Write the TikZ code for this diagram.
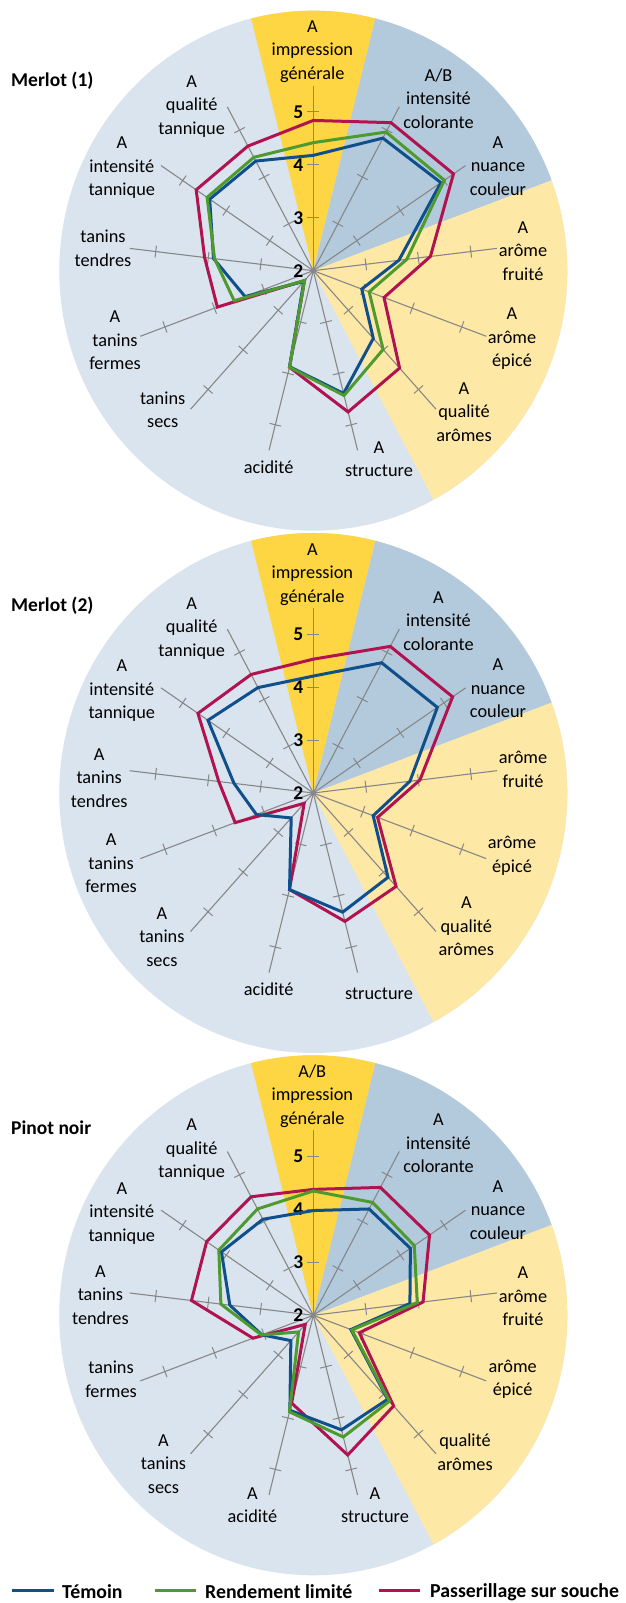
\documentclass[tikz,border=0pt]{standalone}
\usepackage{fontspec}
\setmainfont{Carlito}
\usetikzlibrary{calc}
\definecolor{bgc}{HTML}{DAE4EE}
\definecolor{bluesec}{HTML}{B3CADD}
\definecolor{yelsec}{HTML}{FED543}
\definecolor{ltyel}{HTML}{FEE8A5}
\definecolor{temoin}{HTML}{0E4F8C}
\definecolor{rend}{HTML}{4E9A2E}
\definecolor{pass}{HTML}{B0134F}
\definecolor{axisc}{HTML}{878787}
\tikzset{
  lbl/.style={align=center, font=\fontsize{18.3}{23.5}\selectfont, inner sep=0pt},
  num/.style={font=\bfseries\fontsize{19.5}{19.5}\selectfont, inner sep=0pt},
  ttl/.style={font=\bfseries\fontsize{19.5}{20}\selectfont, inner sep=0pt, anchor=west},
  leg/.style={font=\bfseries\fontsize{19.8}{20}\selectfont, inner sep=0pt, anchor=west},
  spoke/.style={draw=axisc, line width=1.1pt},
  tickm/.style={draw=axisc, line width=1pt},
  series/.style={line width=3pt, line join=miter, miter limit=3},
  legline/.style={line width=3pt},
}
\newcommand\radarbg[1]{%
  \coordinate (#1c) at (0,0);
  \fill[bgc] (#1c) ellipse [x radius=254, y radius=260];
  \begin{scope}
    \clip (#1c) ellipse [x radius=254, y radius=260];
    \fill[yelsec] (#1c) -- (103.846:400) arc[start angle=103.846, end angle=76.154, radius=400] -- cycle;
    \fill[bluesec] (#1c) -- (76.154:400) arc[start angle=76.154, end angle=20.769, radius=400] -- cycle;
    \fill[ltyel] (#1c) -- (20.769:400) arc[start angle=20.769, end angle=-62.308, radius=400] -- cycle;
  \end{scope}
  \foreach \k in {0,...,12}{
    \pgfmathsetmacro\a{90-27.6923*\k}
    \coordinate (#1e\k) at (\a:185);
    \draw[spoke] (#1c) -- (#1e\k);
    \foreach \t in {1,2,3}{
      \draw[tickm] (\a:{\t*52.9}) ++({\a+90}:6) -- ++({\a-90}:12);
    }
  }
  \fill[axisc] (#1c) circle (2.6);
  \node[num] (#1n2) at (-15,0) {2};
  \node[num] (#1n3) at (-15,52.9) {3};
  \node[num] (#1n4) at (-15,105.8) {4};
  \node[num] (#1n5) at (-15,158.7) {5};
}
\newcommand\serie[3]{%
  \foreach \v [count=\k from 0] in {#3}{
    \pgfmathsetmacro\a{90-27.6923*\k}
    \coordinate (#1\k) at (\a:{(\v-2)*52.9});
  }
  \draw[series,#2] (#10) -- (#11) -- (#12) -- (#13) -- (#14) -- (#15) -- (#16) -- (#17) -- (#18) -- (#19) -- (#110) -- (#111) -- (#112) -- cycle;
}
\begin{document}
\begin{tikzpicture}[x=1pt,y=1pt]
\useasboundingbox (0,0) rectangle (625,1603);
\fill[white] (0,0) rectangle (625,1603);

% ---------------- Merlot (1)
\begin{scope}[shift={(313.3,1332.3)}]
  \radarbg{a}
  \serie{aP}{pass}{4.84,5.16,5.22,4.23,3.43,4.46,4.75,3.88,2.25,3.94,4.07,4.69,4.66}
  \serie{aT}{temoin}{4.18,4.83,4.93,3.63,2.98,3.71,4.39,3.87,2.27,3.38,3.90,4.38,4.34}
  \serie{aR}{rend}{4.42,4.96,5.01,3.78,3.13,3.99,4.43,3.88,2.25,3.60,3.88,4.44,4.42}
  \node[lbl] (al0) at (-1,219.2) {A\\impression\\générale};
  \node[lbl] (al1) at (125.2,172.2) {A/B\\intensité\\colorante};
  \node[lbl] (al2) at (184.7,104.6) {A\\nuance\\couleur};
  \node[lbl] (al3) at (209.7,19.9) {A\\arôme\\fruité};
  \node[lbl] (al4) at (198.7,-68.3) {A\\arôme\\épicé};
  \node[lbl] (al5) at (150.7,-141.3) {A\\qualité\\arômes};
  \node[lbl] (al6) at (65.7,-188.3) {A\\structure};
  \node[lbl] (al7) at (-44.6,-196.1) {acidité};
  \node[lbl] (al8) at (-150.6,-139.3) {tanins\\secs};
  \node[lbl] (al9) at (-198.3,-69.8) {A\\tanins\\fermes};
  \node[lbl] (al10) at (-210.3,22.2) {tanins\\tendres};
  \node[lbl] (al11) at (-191.5,102.9) {A\\intensité\\tannique};
  \node[lbl] (al12) at (-121.6,164.4) {A\\qualité\\tannique};
  \node[ttl] (at) at (-302.3,190) {Merlot (1)};
\end{scope}

% ---------------- Merlot (2)
\begin{scope}[shift={(313.3,810.0)}]
  \radarbg{b}
  \serie{bP}{pass}{4.53,5.13,5.20,4.03,3.30,4.36,4.50,3.88,2.26,3.58,3.80,4.65,4.53}
  \serie{bT}{temoin}{4.21,4.78,4.85,3.84,3.21,4.13,4.32,3.88,2.63,3.15,3.51,4.42,4.25}
  \node[lbl] (bl0) at (-1,218.6) {A\\impression\\générale};
  \node[lbl] (bl1) at (125.2,172.2) {A\\intensité\\colorante};
  \node[lbl] (bl2) at (184.7,104.6) {A\\nuance\\couleur};
  \node[lbl] (bl3) at (209.7,23.6) {arôme\\fruité};
  \node[lbl] (bl4) at (198.7,-63) {arôme\\épicé};
  \node[lbl] (bl5) at (153,-133.6) {A\\qualité\\arômes};
  \node[lbl] (bl6) at (65.7,-200.7) {structure};
  \node[lbl] (bl7) at (-44.6,-196.7) {acidité};
  \node[lbl] (bl8) at (-151.4,-144.2) {A\\tanins\\secs};
  \node[lbl] (bl9) at (-202.2,-70.4) {A\\tanins\\fermes};
  \node[lbl] (bl10) at (-214.1,15.2) {A\\tanins\\tendres};
  \node[lbl] (bl11) at (-191.5,102.3) {A\\intensité\\tannique};
  \node[lbl] (bl12) at (-121.6,164.5) {A\\qualité\\tannique};
  \node[ttl] (bt) at (-302.3,187.7) {Merlot (2)};
\end{scope}

% ---------------- Pinot noir
\begin{scope}[shift={(313.3,287.7)}]
  \radarbg{c}
  \serie{cP}{pass}{4.38,4.73,4.67,4.09,2.93,4.29,4.72,3.71,2.23,3.22,4.32,4.45,4.53}
  \serie{cT}{temoin}{3.98,4.27,4.23,3.84,2.76,4.12,4.23,3.85,2.64,3.04,3.59,4.11,4.05}
  \serie{cR}{rend}{4.35,4.41,4.32,3.98,2.78,4.17,4.37,3.88,2.42,3.05,3.76,4.17,4.27}
  \node[lbl] (cl0) at (-1,219.4) {A/B\\impression\\générale};
  \node[lbl] (cl1) at (125.2,171.6) {A\\intensité\\colorante};
  \node[lbl] (cl2) at (184.7,105.4) {A\\nuance\\couleur};
  \node[lbl] (cl3) at (209.7,19.1) {A\\arôme\\fruité};
  \node[lbl] (cl4) at (199.4,-63.9) {arôme\\épicé};
  \node[lbl] (cl5) at (151.7,-137) {qualité\\arômes};
  \node[lbl] (cl6) at (61.7,-189.9) {A\\structure};
  \node[lbl] (cl7) at (-60.9,-189.9) {A\\acidité};
  \node[lbl] (cl8) at (-149.8,-148.6) {A\\tanins\\secs};
  \node[lbl] (cl9) at (-202.2,-63.9) {tanins\\fermes};
  \node[lbl] (cl10) at (-212.9,20.5) {A\\tanins\\tendres};
  \node[lbl] (cl11) at (-191.5,101.8) {A\\intensité\\tannique};
  \node[lbl] (cl12) at (-121.6,165.5) {A\\qualité\\tannique};
  \node[ttl] (ct) at (-302.3,187.8) {Pinot noir};
\end{scope}

% ---------------- Legend
\coordinate (g1a) at (12,12);
\coordinate (g1b) at (54,12);
\coordinate (g2a) at (155,12);
\coordinate (g2b) at (196,12);
\coordinate (g3a) at (379,12);
\coordinate (g3b) at (420,12);
\draw[legline,temoin] (g1a) -- (g1b);
\draw[legline,rend] (g2a) -- (g2b);
\draw[legline,pass] (g3a) -- (g3b);
\node[leg] (gt1) at (62,11) {Témoin};
\node[leg] (gt2) at (205,11) {Rendement limité};
\node[leg] (gt3) at (430,11) {Passerillage sur souche};
\end{tikzpicture}
\end{document}
